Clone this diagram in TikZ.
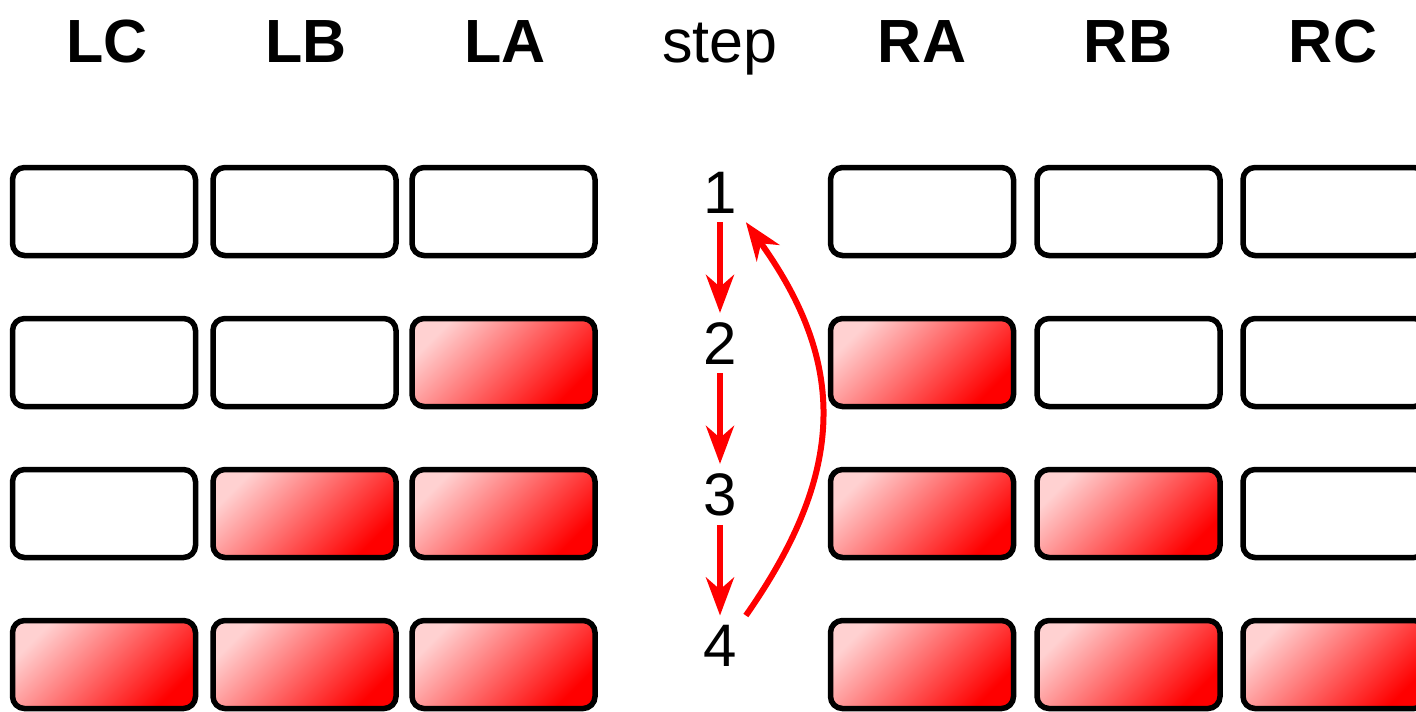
\documentclass[tikz,border=0pt]{standalone}
\usepackage{fontspec}
\setmainfont{Liberation Sans}
\usetikzlibrary{arrows.meta}
\tikzset{
  cell/.style={draw=black, line width=5.5pt, rounded corners=12pt, minimum width=183pt, minimum height=88pt, inner sep=0pt},
  full/.style={cell, top color=red!18, bottom color=red, shading angle=45},
  hdr/.style={font=\fontsize{61}{61}\selectfont\bfseries, anchor=base, inner sep=0pt},
  num/.style={font=\fontsize{60}{60}\selectfont, anchor=base, inner sep=9pt},
  flow/.style={red, line width=6pt, -{Stealth[length=38pt,width=28pt,inset=12pt]}},
}
\begin{document}
\begin{tikzpicture}[x=1pt,y=-1pt]
\useasboundingbox (0,0) rectangle (1416,712);
% headers
\node[hdr] (hLC) at (107,62) {LC};
\node[hdr] (hLB) at (306,62) {LB};
\node[hdr] (hLA) at (505,62) {LA};
\node[hdr,font=\fontsize{61}{61}\selectfont] (hstep) at (720,62) {step};
\node[hdr] (hRA) at (922,62) {RA};
\node[hdr] (hRB) at (1128,62) {RB};
\node[hdr] (hRC) at (1333,62) {RC};
% row 1
\node[cell] (LC1) at (104,211.5) {};
\node[cell] (LB1) at (304.5,211.5) {};
\node[cell] (LA1) at (503.5,211.5) {};
\node[cell] (RA1) at (922,211.5) {};
\node[cell] (RB1) at (1128.5,211.5) {};
\node[cell] (RC1) at (1334.5,211.5) {};
% row 2
\node[cell] (LC2) at (104,362.5) {};
\node[cell] (LB2) at (304.5,362.5) {};
\node[full] (LA2) at (503.5,362.5) {};
\node[full] (RA2) at (922,362.5) {};
\node[cell] (RB2) at (1128.5,362.5) {};
\node[cell] (RC2) at (1334.5,362.5) {};
% row 3
\node[cell] (LC3) at (104,513.5) {};
\node[full] (LB3) at (304.5,513.5) {};
\node[full] (LA3) at (503.5,513.5) {};
\node[full] (RA3) at (922,513.5) {};
\node[full] (RB3) at (1128.5,513.5) {};
\node[cell] (RC3) at (1334.5,513.5) {};
% row 4
\node[full] (LC4) at (104,664.5) {};
\node[full] (LB4) at (304.5,664.5) {};
\node[full] (LA4) at (503.5,664.5) {};
\node[full] (RA4) at (922,664.5) {};
\node[full] (RB4) at (1128.5,664.5) {};
\node[full] (RC4) at (1334.5,664.5) {};
% step numbers
\node[num] (s1) at (720,213) {1};
\node[num] (s2) at (720,364) {2};
\node[num] (s3) at (720,515) {3};
\node[num] (s4) at (720,666) {4};
% arrows
\draw[flow] (s1.south) -- (s2.north);
\draw[flow] (s2.south) -- (s3.north);
\draw[flow] (s3.south) -- (s4.north);
\draw[flow] (s4.north east) .. controls (847,471) and (847,363) .. (s1.south east);
\end{tikzpicture}
\end{document}
